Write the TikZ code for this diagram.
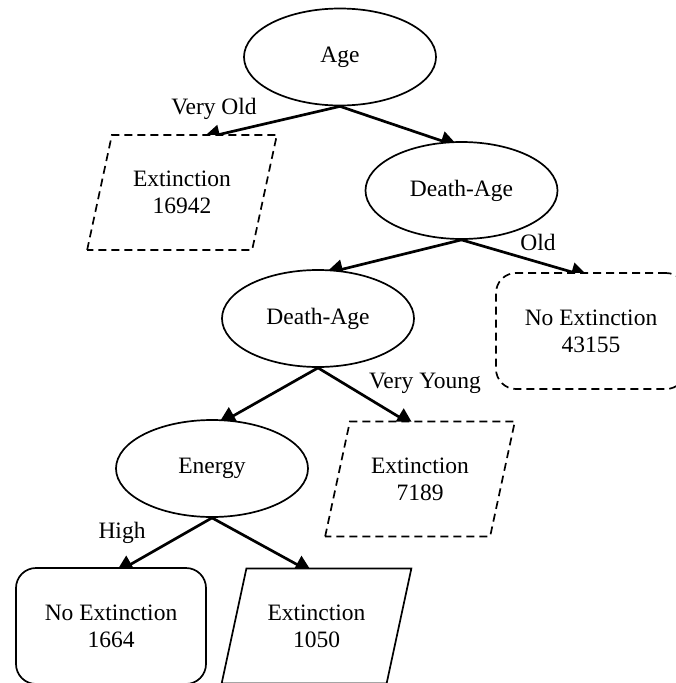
\documentclass[tikz,border=0pt]{standalone}
\usepackage{fontspec}
\setmainfont{Liberation Serif}
\usetikzlibrary{shapes.geometric,arrows.meta,calc,backgrounds}
\begin{document}
\begin{tikzpicture}[x=1pt,y=-1pt,
  every node/.style={font=\fontsize{23.5}{27}\selectfont},
  decision/.style={ellipse,draw,line width=1.7pt,fill=white,minimum width=192pt,minimum height=97pt,inner sep=0pt},
  leafpara/.style={trapezium,trapezium left angle=68,trapezium right angle=112,trapezium stretches=true,minimum width=190pt,minimum height=115pt,draw,line width=1.7pt,fill=white,align=center,inner sep=0pt},
  leafrect/.style={rectangle,rounded corners=20pt,draw,line width=1.7pt,fill=white,minimum width=190pt,minimum height=116pt,align=center},
  dashedline/.style={dash pattern=on 8pt off 5pt},
  branch/.style={line width=2.7pt,-{Triangle[length=18pt,width=19pt]}},
  lab/.style={inner sep=0pt}
]
\useasboundingbox (0,0) rectangle (676,683);

% decision nodes
\node[decision] (age) at (340,57) {Age};
\node[decision] (da1) at (461.5,190.5) {Death-Age};
\node[decision] (da2) at (318,318.5) {Death-Age};
\node[decision] (energy) at (212,468.5) {Energy};

% leaves
\node[leafpara,dashedline] (p16942) at (182,192.5) {Extinction\\16942};
\node[leafpara,dashedline] (p7189) at (420,479) {Extinction\\7189};
\node[leafpara] (p1050) at (316.5,626) {Extinction\\1050};
\node[leafrect,dashedline] (r43155) at (591,331) {No Extinction\\43155};
\node[leafrect] (r1664) at (111,626) {No Extinction\\1664};

% edge labels
\node[lab] (lveryold) at (214,109) {Very Old};
\node[lab] (lold) at (538,242) {Old};
\node[lab] (lveryyoung) at (425,383) {Very Young};
\node[lab] (lhigh) at (122,533) {High};

% connectors (behind the nodes)
\begin{scope}[on background layer]
\draw[branch] (age.south) -- ($(p16942.center)+(20,-54)$);
\draw[branch] (age.south) -- ($(da1.center)+(-3,-44)$);
\draw[branch] (da1.south) -- ($(da2.center)+(7,-45)$);
\draw[branch] (da1.south) -- ($(r43155.center)+(-2,-54)$);
\draw[branch] (da2.south) -- ($(energy.center)+(6,-44)$);
\draw[branch] (da2.south) -- ($(p7189.center)+(-6,-53)$);
\draw[branch] (energy.south) -- ($(r1664.center)+(4.5,-53)$);
\draw[branch] (energy.south) -- ($(p1050.center)+(-4,-53)$);
\end{scope}
\end{tikzpicture}
\end{document}
